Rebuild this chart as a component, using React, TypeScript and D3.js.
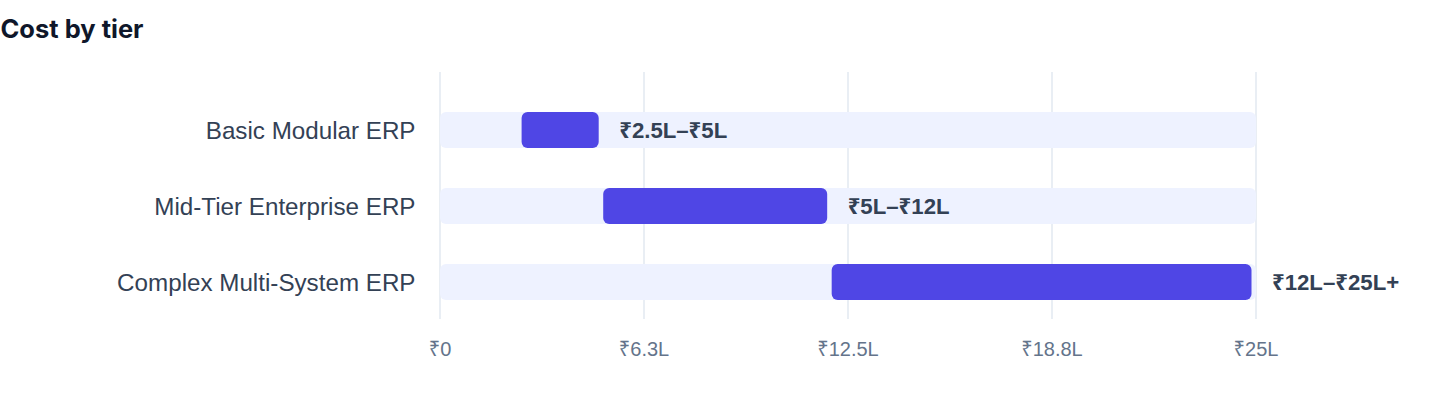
import React from "react";
import * as d3 from "d3";

const categories = ["Basic Modular ERP", "Mid-Tier Enterprise ERP", "Complex Multi-System ERP"];
const rangeLow = [2.5, 5, 12];
const rangeHigh = [5, 12, 25];
const rangeLabels = ["₹2.5L–₹5L", "₹5L–₹12L", "₹12L–₹25L+"];
const domainMax = 25;
const tickValues = [0, 6.25, 12.5, 18.75, 25];
const tickLabels = ["₹0", "₹6.3L", "₹12.5L", "₹18.8L", "₹25L"];

const W = 1440;
const H = 408;
const FONT = "'Liberation Sans', 'Noto Sans', sans-serif";
const TITLE_FONT = "Inter, 'Liberation Sans', sans-serif";

export default function App() {
  const x = d3.scaleLinear().domain([0, domainMax]).range([440, 1256]);
  const y = d3.scaleBand<string>().domain(categories).range([92, 320]).padding(0);
  const barH = 36;
  const endGap = 4.5;
  const rows = categories.map((c, i) => ({ c, lo: rangeLow[i], hi: rangeHigh[i], label: rangeLabels[i] }));

  return (
    <svg
      width={W}
      height={H}
      style={{ position: "absolute", left: 0, top: 0, background: "#fff" }}
    >
      <text x={0.5} y={38} fontFamily={TITLE_FONT} fontWeight={700} fontSize={25.5} fill="#0f172a">
        Cost by tier
      </text>
      {tickValues.map((t) => (
        <line key={"g" + t} x1={x(t)} x2={x(t)} y1={72} y2={319} stroke="#e2e8f0" strokeWidth={1.5} />
      ))}
      {rows.map((r) => {
        const cy = (y(r.c) as number) + y.bandwidth() / 2;
        return (
          <g key={r.c}>
            <rect x={x(0)} y={cy - barH / 2} width={x(domainMax) - x(0)} height={barH} rx={6} fill="#eef2ff" />
            <rect x={x(r.lo)} y={cy - barH / 2} width={x(r.hi) - x(r.lo) - endGap} height={barH} rx={6} fill="#4f46e5" />
            <text x={415.5} y={cy + 8.5} textAnchor="end" fontFamily={FONT} fontSize={24.2} fill="#334155">
              {r.c}
            </text>
            <text x={x(r.hi) + 16} y={cy + 8} fontFamily={FONT} fontWeight={700} fontSize={22.2} fill="#334155">
              {r.label}
            </text>
          </g>
        );
      })}
      {tickValues.map((t, i) => (
        <text key={"t" + t} x={x(t)} y={356} textAnchor="middle" fontFamily={FONT} fontSize={20} fill="#64748b">
          {tickLabels[i]}
        </text>
      ))}
    </svg>
  );
}
